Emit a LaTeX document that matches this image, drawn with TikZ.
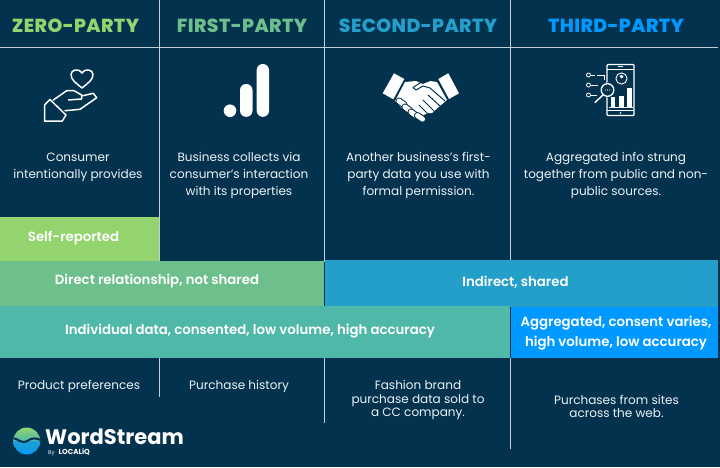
\documentclass[tikz,border=0pt]{standalone}
\usepackage{fontspec}
\setmainfont{Poppins}
\newfontfamily\titlefont[LetterSpace=2]{Poppins ExtraBold}
\newfontfamily\boldfont{Poppins SemiBold}
\newfontfamily\logofont{Poppins Bold}
\definecolor{bgc}{HTML}{03324F}
\definecolor{linec}{HTML}{C3CED6}
\definecolor{cA}{HTML}{93D46F}
\definecolor{cB}{HTML}{6DBF8C}
\definecolor{cC}{HTML}{50B8A9}
\definecolor{cD}{HTML}{249FC9}
\definecolor{cE}{HTML}{0099FF}
\definecolor{txt}{HTML}{EDF2F5}
\tikzset{
 x=1pt,y=-1pt,
 rule/.style={draw=linec,line width=1pt},
 titlet/.style={font=\titlefont\fontsize{18.9}{20}\selectfont,inner sep=0pt,anchor=center},
 bodyt/.style={font=\fontsize{12.05}{17}\selectfont,text=txt,align=center,inner sep=0pt,anchor=center},
 lowt/.style={font=\fontsize{12.05}{13.8}\selectfont,text=txt,align=center,inner sep=0pt,anchor=center},
 bart/.style={font=\boldfont\fontsize{13.3}{20}\selectfont,text=white,align=center,inner sep=0pt,anchor=center},
 icon/.style={draw=white,line width=1.5pt,line join=round,line cap=round},
 logot/.style={inner sep=0pt,anchor=base west,text depth=0pt},
}
\begin{document}
\begin{tikzpicture}
\useasboundingbox (0,0) rectangle (720,467);
\fill[bgc] (0,0) rectangle (720,467);
% grid rules
\draw[rule] (0,47) -- (718,47);
\draw[rule] (159,0) -- (159,262);
\draw[rule] (324.5,0) -- (324.5,262);
\draw[rule] (510,0) -- (510,262);
\draw[rule] (159,358) -- (159,397);
\draw[rule] (324.5,358) -- (324.5,423);
\draw[rule] (510,358) -- (510,449);
% bands
\fill[cA] (0.4,217) rectangle (158.5,262);
\fill[cB] (0.4,261) rectangle (324,306);
\fill[cD] (325,260) rectangle (718,307);
\fill[cC] (0.4,306) rectangle (510,358);
\fill[cE] (511,307) rectangle (718,358);
% titles
\node[titlet,text=cA] (t0) at (75.5,25.5) {ZERO-PARTY};
\node[titlet,text=cB] (t1) at (242,25.5) {FIRST-PARTY};
\node[titlet,text=cD] (t2) at (418,25.5) {SECOND-PARTY};
\node[titlet,text=cE] (t3) at (616,25.5) {THIRD-PARTY};
% descriptions
\node[bodyt] (d0) at (78,167) {Consumer\\intentionally provides};
\node[bodyt] (d1) at (239,175.5) {Business collects via\\consumer's interaction\\with its properties};
\node[bodyt] (d2) at (418.5,175.5) {Another business's first-\\party data you use with\\formal permission.};
\node[bodyt] (d3) at (616,175.5) {Aggregated info strung\\together from public and non-\\public sources.};
% band labels
\node[bart] (b0) at (73.5,238.5) {Self-reported};
\node[bart] (b1) at (157,281) {Direct relationship, not shared};
\node[bart] (b2) at (515.5,282.5) {Indirect, shared};
\node[bart] (b3) at (250,331.5) {Individual data, consented, low volume, high accuracy};
\node[bart] (b4) at (616,333) {Aggregated, consent varies,\\high volume, low accuracy};
% low row
\node[lowt] (l0) at (79,386.5) {Product preferences};
\node[lowt] (l1) at (239,386.5) {Purchase history};
\node[lowt] (l2) at (418,400) {Fashion brand\\purchase data sold to\\a CC company.};
\node[lowt] (l3) at (616.5,406.5) {Purchases from sites\\across the web.};
% hand + heart icon
\draw[icon] (82,88) .. controls (76,83) and (71,80) .. (71,74.5) .. controls (71,70) and (78,67.5) .. (82,73) .. controls (86,67.5) and (93,70) .. (93,74.5) .. controls (93,80) and (88,83) .. (82,88) -- cycle;
\draw[icon] (44.5,105) -- (50,99.5) -- (66,115) -- (62.3,121) -- (44.5,121) -- cycle;
\draw[icon] (53.3,100) -- (66.7,90.7) -- (74,90.7) -- (81.7,95) -- (81.7,99) -- (68.5,100);
\draw[icon] (81.7,96) -- (93.3,93.3) -- (96.7,97.7) -- (80,109.3) -- (65,110.7);
% bars icon
\fill[white] (230,110.7) circle (6.3);
\fill[white,rounded corners=6pt] (240,84) rectangle (252.5,116.8);
\fill[white,rounded corners=6pt] (256.7,64) rectangle (269,116.8);
% handshake
\fill[white] (394,73.3) -- (404.3,79) -- (393.3,99.3) -- (382.7,93.3) -- cycle;
\fill[white] (448.3,73.3) -- (459,93.3) -- (449,99) -- (438.3,79) -- cycle;
\fill[white] (405,82) -- (416,81) -- (423,84) -- (430,81) -- (437,82) -- (447,100) -- (441,105) -- (432,113) -- (428,113) -- (419,117) -- (410,115) -- (402,108) -- (395,101) -- cycle;
\draw[bgc,line width=1pt,line cap=round,line join=round] (445,101) -- (430,88) -- (423,86) -- (416,90) -- (413,87.5) -- (420,83) -- (429,81);
\draw[bgc,line width=1pt,line cap=round] (440,106) -- (428,95) (434,111) -- (423,100) (428,114) -- (419,105);
\foreach \cx/\cy in {399/101,405/107,411/112,417.5/115.5}
  \draw[white,line width=5pt,line cap=round,preaction={draw=bgc,line width=7pt,line cap=round}] (\cx,\cy) -- ++(5,3.6);
% phone icon
\draw[white,line width=1.4pt,rounded corners=1pt] (607,64.5) rectangle (634,115.5);
\draw[white,line width=.8pt] (607,69.5) -- (634,69.5) (607,110) -- (634,110);
\fill[white] (620.5,113) circle (.9);
\draw[white,line width=.7pt] (617.5,66.7) -- (623,66.7);
\draw[white,line width=.9pt] (621.5,78.5) circle (5.6);
\fill[white] (621.5,76.6) circle (1.9);
\begin{scope}
\clip (621.5,78.5) circle (5.2);
\fill[white] (617.3,84.5) arc[start angle=180,end angle=0,radius=4.2] -- cycle;
\end{scope}
\fill[white] (610.5,97) rectangle (615,106.5);
\fill[white] (619,96) rectangle (624.3,106.5);
\fill[white] (627,87.5) rectangle (632,106.5);
\draw[white,line width=.8pt] (609,107.3) -- (633,107.3);
\draw[bgc,fill=bgc,line width=1pt] (608,90) circle (7);
\draw[white,line width=1.3pt] (607.5,90) circle (6.3);
\draw[white,line width=1.4pt,line cap=round] (603,95) -- (595,102.5);
\foreach \dx in {-2.2,0,2.2} \fill[white] (607.5+\dx,90) circle (.55);
\foreach \dy in {75,85,95} \draw[white,line width=.8pt] (588.5,\dy) circle (2);
\draw[white,line width=.8pt] (590.5,75) -- (595,75) (597,75) -- (604,75) -- (604,80);
\draw[white,line width=.8pt] (590.5,85) -- (598,85);
\draw[white,line width=.8pt] (590.5,95) -- (597,95);
% logo
\begin{scope}
\clip (26.7,441) circle (13.5);
\shade[top color=cA,bottom color=cC] (13,427.5) rectangle (41,441);
\shade[top color=cD,bottom color=cE] (13,441) rectangle (41,455);
\draw[bgc,line width=2pt] (12,438) .. controls (18,438) and (21,444.5) .. (27,441) .. controls (32,438) and (36,437) .. (42,441);
\fill[cD!70!cE] (12,440.5) .. controls (18,440.5) and (21,447) .. (27,443.5) .. controls (32,440.5) and (36,439.5) .. (42,443.5) -- (42,446) -- (12,446) -- cycle;
\end{scope}
\node[logot,font=\logofont\fontsize{21}{22}\selectfont,text=white] (w) at (45,444) {WordStream};
\node[logot,font=\fontsize{5.5}{6}\selectfont,text=txt] (by) at (48,454.5) {By};
\node[logot,font=\logofont\fontsize{7.2}{8}\selectfont,text=white] (lq) at (58.5,454.5) {LOCALiQ};
\end{tikzpicture}
\end{document}
